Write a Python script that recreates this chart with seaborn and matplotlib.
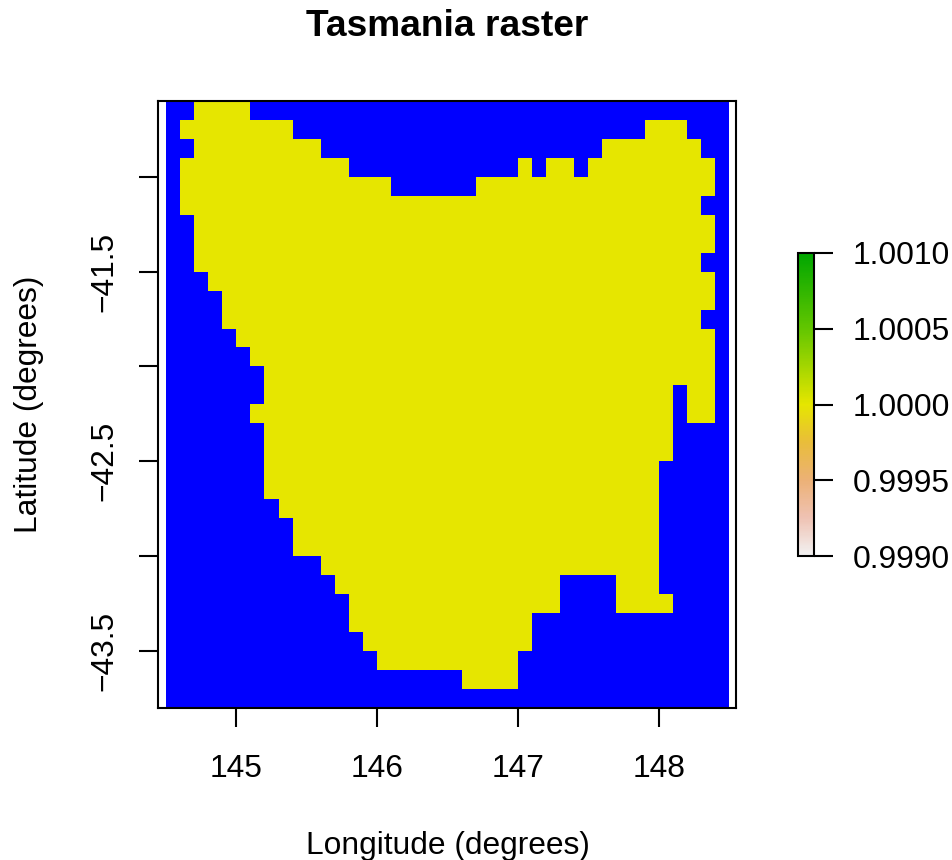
import numpy as np
import matplotlib
matplotlib.use('Agg')
import matplotlib.pyplot as plt
from matplotlib.colors import LinearSegmentedColormap
import seaborn as sns

# land cells of each raster row, north to south, as (first col, last col)
land_runs = [
    [(2, 5)],
    [(1, 8), (34, 36)],
    [(2, 10), (31, 37)],
    [(1, 12), (25, 25), (27, 28), (30, 38)],
    [(1, 15), (22, 38)],
    [(1, 37)],
    [(2, 38)],
    [(2, 38)],
    [(2, 37)],
    [(3, 38)],
    [(4, 38)],
    [(4, 37)],
    [(5, 38)],
    [(6, 38)],
    [(7, 38)],
    [(7, 35), (37, 38)],
    [(6, 35), (37, 38)],
    [(7, 35)],
    [(7, 35)],
    [(7, 34)],
    [(7, 34)],
    [(8, 34)],
    [(9, 34)],
    [(9, 34)],
    [(11, 34)],
    [(12, 27), (32, 34)],
    [(13, 27), (32, 35)],
    [(13, 25)],
    [(14, 25)],
    [(15, 24)],
    [(21, 24)],
    [],
]
lon_ticks = [145, 146, 147, 148]
lat_ticks = [-41.0, -41.5, -42.0, -42.5, -43.0, -43.5]
lat_labels = ['', '\u221241.5', '', '\u221242.5', '', '\u221243.5']
cbar_ticks = [0.999, 0.9995, 1.0, 1.0005, 1.001]
# terrain.colors reversed, yellow sits at the middle of the scale
terrain = [(0.0, '#F2F2F2'), (0.125, '#EFC2B3'), (0.25, '#ECB176'), (0.375, '#E9BD3A'),
           (0.5, '#E6E600'), (0.75, '#63C600'), (1.0, '#00A600')]

lon_min = 144.5
lat_max = -40.6
cell = 0.1

grid = np.full((len(land_runs), 40), np.nan)
for i, runs in enumerate(land_runs):
    for a, b in runs:
        grid[i, a:b + 1] = 1.0

cmap = LinearSegmentedColormap.from_list('terrain_r', terrain, N=255)
cmap.set_bad('#0000FF')

plt.rcParams['font.family'] = ['Liberation Sans', 'DejaVu Sans']
plt.rcParams['font.size'] = 22.9

W, H = 953, 860
fig = plt.figure(figsize=(W / 100, H / 100), dpi=100)
ax = fig.add_axes([158.5 / W, 1 - 707.7 / H, 578 / W, 606.7 / H])
cax = fig.add_axes([797.5 / W, 1 - 556 / H, 16.5 / W, 303 / H])

sns.heatmap(grid, ax=ax, cbar_ax=cax, cmap=cmap, vmin=0.999, vmax=1.001,
            xticklabels=False, yticklabels=False,
            cbar_kws={'ticks': cbar_ticks, 'format': '%.4f'})

ax.set_xlim(-0.53, 40.53)
ax.set_ylim(32, 0)
ax.set_xticks([(v - lon_min) / cell for v in lon_ticks])
ax.set_xticklabels([str(v) for v in lon_ticks])
ax.set_yticks([(lat_max - v) / cell for v in lat_ticks])
ax.set_yticklabels(lat_labels, rotation=90, va='center')
ax.tick_params(length=14, width=1.5, color='black', labelsize=22.9, bottom=True, left=True)
ax.tick_params(axis='x', pad=19)
ax.tick_params(axis='y', pad=14)
for s in ax.spines.values():
    s.set_visible(True)
    s.set_linewidth(1.5)
    s.set_color('black')

ax.set_xlabel('Longitude (degrees)', fontsize=22.9, labelpad=34.5)
ax.set_ylabel('Latitude (degrees)', fontsize=22.9, labelpad=33)
fig.text(447 / W, 1 - 27 / H, 'Tasmania raster', fontsize=26.7, fontweight='bold',
         ha='center', va='center')

cbar = ax.collections[0].colorbar
cbar.outline.set_visible(True)
cbar.outline.set_linewidth(1.5)
cbar.outline.set_edgecolor('black')
cax.tick_params(length=14, width=1.5, color='black', labelsize=22.9, pad=14)

fig.savefig('out.png', dpi=100)
